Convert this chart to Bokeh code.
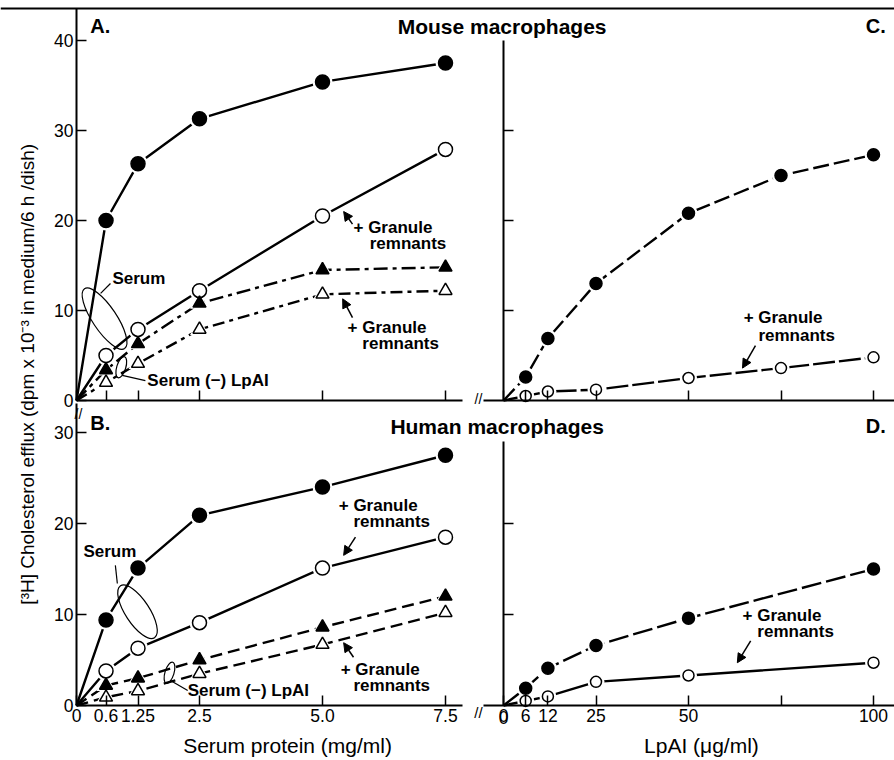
from bokeh.plotting import figure
from bokeh.models import Range1d, LinearAxis, FixedTicker, Label, Span, Arrow, NormalHead
from bokeh.embed import file_html
from bokeh.resources import INLINE

FONT = "Liberation Sans"

# ---------------- data ----------------
serum_x = [0, 0.6, 1.25, 2.5, 5.0, 7.5]
mouse_serum = [0, 20.0, 26.3, 31.3, 35.4, 37.5]
mouse_serum_gr = [0, 5.0, 7.9, 12.2, 20.5, 27.9]
mouse_minus = [0, 3.4, 6.3, 10.8, 14.5, 14.8]
mouse_minus_gr = [0, 2.0, 4.1, 7.9, 11.8, 12.2]
human_serum = [0, 9.4, 15.1, 20.9, 24.0, 27.5]
human_serum_gr = [0, 3.8, 6.3, 9.1, 15.1, 18.5]
human_minus = [0, 2.2, 3.0, 5.0, 8.6, 12.0]
human_minus_gr = [0, 0.9, 1.6, 3.5, 6.7, 10.2]

lpai_x_mouse = [0, 6, 12, 25, 50, 75, 100]
mouse_lpai = [0, 2.6, 6.9, 13.0, 20.8, 25.0, 27.3]
mouse_lpai_gr = [0, 0.5, 1.0, 1.2, 2.5, 3.6, 4.8]
lpai_x_human = [0, 6, 12, 25, 50, 100]
human_lpai = [0, 1.9, 4.1, 6.6, 9.6, 15.0]
human_lpai_gr = [0, 0.5, 1.0, 2.6, 3.3, 4.7]

serum_ticks = [0, 0.6, 1.25, 2.5, 5.0, 7.5]
serum_tick_labels = ["0", "0.6", "1.25", "2.5", "5.0", "7.5"]
lpai_ticks = [0, 6, 12, 25, 50, 75, 100]
lpai_hidden_labels = {75: ""}
lpai_origin_label = "0"
mouse_y_ticks = [0, 10, 20, 30, 40]
mouse_right_ticks = [10, 20, 30]
human_y_ticks = [0, 10, 20, 30]
human_right_ticks = [10, 20]

# ---------------- geometry (page pixels) ----------------
W, H = 894, 758
SERUM_ZERO, SERUM_PX = 76, 49.2
LP_ZERO, LP_PX = 503, 3.7
MOUSE_ZERO, MOUSE_PX = 400, 9.0
HUMAN_ZERO, HUMAN_PX = 705, 9.1
TOP_LINE = 8
HUMAN_TOP = 403

p = figure(width=W, height=H,
           x_range=Range1d(-SERUM_ZERO / SERUM_PX, (W - SERUM_ZERO) / SERUM_PX),
           y_range=Range1d(-(H - HUMAN_ZERO) / HUMAN_PX, HUMAN_ZERO / HUMAN_PX),
           x_axis_location=None, y_axis_location=None,
           output_backend="svg", toolbar_location=None, min_border=0)
p.extra_x_ranges = {"lp": Range1d(-LP_ZERO / LP_PX, (W - LP_ZERO) / LP_PX)}
p.extra_y_ranges = {"mouse": Range1d(-(H - MOUSE_ZERO) / MOUSE_PX, MOUSE_ZERO / MOUSE_PX)}
p.outline_line_color = None
p.xgrid.visible = False
p.ygrid.visible = False
LP_END = (W - LP_ZERO) / LP_PX
MOUSE_TOP = (MOUSE_ZERO - TOP_LINE) / MOUSE_PX
HUMAN_END = (HUMAN_ZERO - HUMAN_TOP) / HUMAN_PX
TICK_FONT = "17.5px"


def axis(side, ticks, labels, bounds, overrides=None, **kw):
    ax = LinearAxis(fixed_location=0, **kw)
    ax.ticker = FixedTicker(ticks=ticks)
    ax.bounds = bounds
    ax.axis_line_width = 2
    ax.axis_line_color = "black"
    ax.major_tick_line_width = 1.5
    ax.major_tick_in = 10
    ax.major_tick_out = 0
    ax.minor_tick_line_color = None
    ax.major_label_text_font = FONT
    ax.major_label_text_font_size = TICK_FONT
    ax.major_label_standoff = 3
    ax.major_label_text_color = "black" if labels else None
    if overrides:
        ax.major_label_overrides = overrides
    p.add_layout(ax, side)
    return ax


serum_over = dict(zip(serum_ticks, serum_tick_labels))

# y axes (left panels labelled, right panels ticks only)
axis("left", mouse_y_ticks, True, (0, MOUSE_TOP), y_range_name="mouse")
axis("left", human_y_ticks, True, (0, HUMAN_END))
axis("left", mouse_right_ticks, False, (0, 40), x_range_name="lp", y_range_name="mouse")
axis("left", human_right_ticks, False, (0, 29), x_range_name="lp")
# x axes of the mouse row (ticks only)
axis("below", serum_ticks, False, (0, 7.85), y_range_name="mouse")
axis("below", lpai_ticks, False, (-5.5, LP_END), x_range_name="lp", y_range_name="mouse")
# x axes of the human row
axis("below", serum_ticks, True, (0, 7.85), serum_over)
axis("below", lpai_ticks, True, (-5.5, LP_END), lpai_hidden_labels, x_range_name="lp")

p.add_layout(Span(location=MOUSE_TOP, y_range_name="mouse", dimension="width",
                  line_color="black", line_width=2))


def draw_series(specs):
    for xs, ys, marker, filled, dash, size, xr, yr in specs:
        p.line(xs, ys, line_color="black", line_width=2.4, line_dash=dash,
               x_range_name=xr, y_range_name=yr)
    for xs, ys, marker, filled, dash, size, xr, yr in specs:
        p.scatter(xs[1:], ys[1:], marker=marker, size=size + 6, fill_color="white",
                  line_color=None, x_range_name=xr, y_range_name=yr)
    for xs, ys, marker, filled, dash, size, xr, yr in specs:
        p.scatter(xs[1:], ys[1:], marker=marker, size=size,
                  fill_color="black" if filled else "white",
                  line_color="black", line_width=1.5, x_range_name=xr, y_range_name=yr)


D, M = "default", "mouse"
draw_series([
    (serum_x, mouse_serum, "circle", True, "solid", 14, D, M),
    (serum_x, mouse_serum_gr, "circle", False, "solid", 14, D, M),
    (serum_x, mouse_minus, "triangle", True, "14 5 4 5", 13, D, M),
    (serum_x, mouse_minus_gr, "triangle", False, "12 5 4 5", 13, D, M),
    (lpai_x_mouse, mouse_lpai, "circle", True, "16 5", 12, "lp", M),
    (lpai_x_mouse, mouse_lpai_gr, "circle", False, "22 4", 11, "lp", M),
    (serum_x, human_serum, "circle", True, "solid", 14, D, D),
    (serum_x, human_serum_gr, "circle", False, "solid", 14, D, D),
    (serum_x, human_minus, "triangle", True, "12 6", 13, D, D),
    (serum_x, human_minus_gr, "triangle", False, "12 6", 13, D, D),
    (lpai_x_human, human_lpai, "circle", True, "20 5", 12, "lp", D),
    (lpai_x_human, human_lpai_gr, "circle", False, "solid", 11, "lp", D),
])


def txt(x, y, text, size="17px", bold=True, align="left", xr=D, yr=D, angle=0):
    p.add_layout(Label(x=x, y=y, text=text, x_range_name=xr, y_range_name=yr,
                       angle=angle, angle_units="deg",
                       text_font=FONT, text_font_size=size,
                       text_font_style="bold" if bold else "normal",
                       text_align=align, text_baseline="middle", text_color="black"))


def arrow(x0, y0, x1, y1, xr=D, yr=D):
    p.add_layout(Arrow(x_start=x0, y_start=y0, x_end=x1, y_end=y1,
                       x_range_name=xr, y_range_name=yr,
                       line_width=1.5, line_color="black",
                       end=NormalHead(size=9, fill_color="black", line_color="black")))


def ring(x, y, w, h, ang, xr=D, yr=D):
    p.ellipse(x=[x], y=[y], width=w, height=h, angle=ang,
              width_units="screen", height_units="screen",
              fill_color=None, line_color="black", line_width=1.2,
              x_range_name=xr, y_range_name=yr)


def leader(xs, ys, xr=D, yr=D):
    p.line(xs, ys, line_color="black", line_width=1.2, x_range_name=xr, y_range_name=yr)


# ---- shared y-axis title, x-axis titles, origin tick label of the LpAI axis ----
txt(-0.996, 36.4, "[\u00b3H] Cholesterol efflux (dpm x 10\u207b\u00b3 in medium/6 h /dish)",
    "19px", bold=False, align="center", angle=90)
txt(4.29, -4.4, "Serum protein (mg/ml)", "21px", bold=False, align="center")
txt(53.5, -4.4, "LpAI (\u03bcg/ml)", "21px", bold=False, align="center", xr="lp")
txt(lpai_ticks[0], -1.32, lpai_origin_label, TICK_FONT, bold=False, align="center", xr="lp")

# ---- panel A / C (mouse) ----
txt(0.28, 41.6, "A.", "20px", yr=M)
txt(8.65, 41.6, "Mouse macrophages", "21px", align="center", yr=M)
txt(103.3, 41.6, "C.", "20px", align="right", xr="lp", yr=M)
txt(0.73, 13.6, "Serum", yr=M)
txt(1.44, 2.2, "Serum (\u2212) LpAI", yr=M)
txt(5.63, 19.2, "+ Granule", yr=M)
txt(5.96, 17.4, "remnants", yr=M)
arrow(5.61, 19.6, 5.43, 21.0, yr=M)
txt(5.51, 8.1, "+ Granule", yr=M)
txt(5.81, 6.3, "remnants", yr=M)
arrow(5.61, 9.2, 5.41, 11.3, yr=M)
txt(64.9, 9.2, "+ Granule", xr="lp", yr=M)
txt(68.9, 7.2, "remnants", xr="lp", yr=M)
arrow(68.1, 6.1, 64.6, 3.6, xr="lp", yr=M)
ring(0.57, 9.1, 72, 24, -0.98, yr=M)
ring(0.91, 3.7, 9, 22, -0.3, yr=M)
leader([0.69, 0.49], [13.0, 11.9], yr=M)
leader([0.93, 1.40], [2.8, 2.2], yr=M)
txt(8.17, 0.2, "//", "14px", bold=False, align="center", yr=M)

# ---- panel B / D (human) ----
txt(0.28, 31.0, "B.", "20px")
txt(8.55, 30.7, "Human macrophages", "21px", align="center")
txt(103.3, 30.7, "D.", "20px", align="right", xr="lp")
txt(0.14, 16.9, "Serum")
txt(2.26, 1.7, "Serum (\u2212) LpAI")
txt(5.33, 22.0, "+ Granule")
txt(5.63, 20.2, "remnants")
arrow(5.67, 18.5, 5.43, 16.5)
txt(5.37, 4.0, "+ Granule")
txt(5.63, 2.2, "remnants")
arrow(5.63, 5.3, 5.43, 6.9)
txt(64.6, 9.9, "+ Granule", xr="lp")
txt(68.6, 8.1, "remnants", xr="lp")
arrow(66.8, 7.1, 63.2, 4.7, xr="lp")
ring(1.24, 10.3, 62, 24, -0.99)
ring(1.89, 3.6, 9, 22, -0.3)
leader([0.79, 0.83], [15.4, 13.4])
leader([1.91, 2.26], [2.75, 1.65])
txt(8.17, -0.77, "//", "15px", bold=False, align="center")
txt(0.04, 32.0, "//", "14px", bold=False, align="center")

open("out.html", "w").write(file_html(p, INLINE))
